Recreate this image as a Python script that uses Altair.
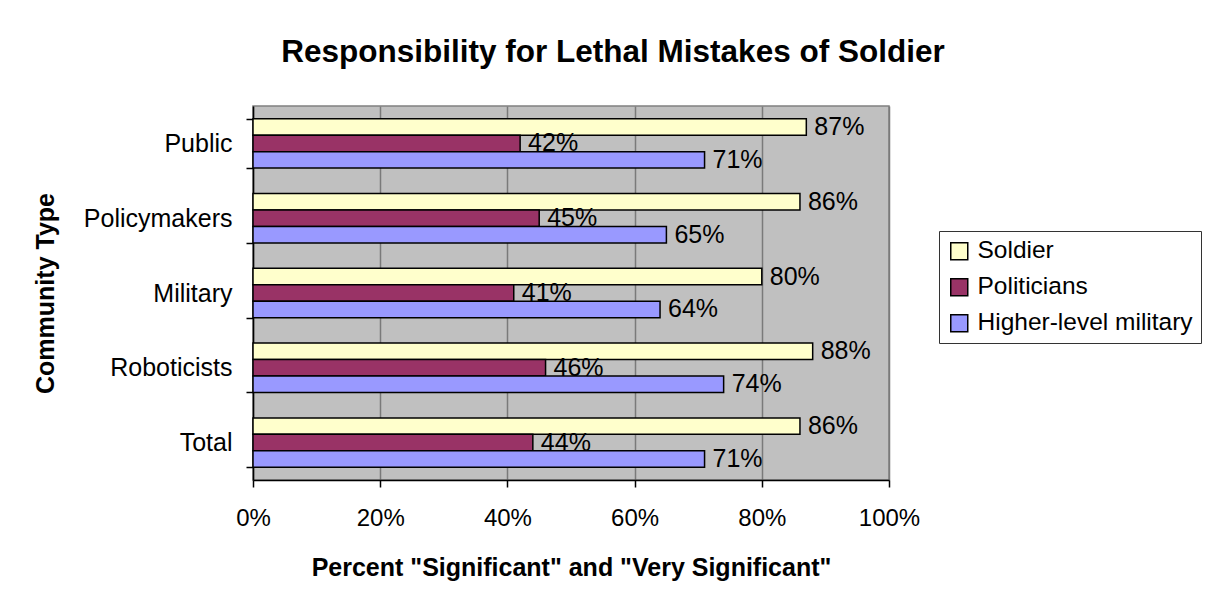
import altair as alt
import pandas as pd

categories = ["Public", "Policymakers", "Military", "Roboticists", "Total"]
series = ["Soldier", "Politicians", "Higher-level military"]
soldier = [87, 86, 80, 88, 86]
politicians = [42, 45, 41, 46, 44]
higher_military = [71, 65, 64, 74, 71]
colors = ["#FFFFCC", "#993366", "#9999FF"]
x_ticks = [0, 0.2, 0.4, 0.6, 0.8, 1.0]

rows = []
for i, c in enumerate(categories):
    for s, vals in zip(series, [soldier, politicians, higher_military]):
        rows.append({"category": c, "series": s, "value": vals[i] / 100.0,
                     "label": f"{vals[i]}%"})
df = pd.DataFrame(rows)

FONT = "Liberation Sans"

y = alt.Y(
    "category:N", sort=categories,
    scale=alt.Scale(paddingInner=0.34, paddingOuter=0.17),
    axis=alt.Axis(
        title="Community Type", titleFontSize=25, titleFontWeight="bold",
        titleColor="black", titleX=-208, titleY=187, titleAngle=270,
        titleAlign="center", titleBaseline="middle",
        labelFontSize=25, labelColor="black", labelPadding=14,
        tickBand="extent", tickSize=7, tickColor="black", tickWidth=1.5,
        domainColor="black", domainWidth=1.5, grid=False,
    ),
)

x = alt.X(
    "value:Q",
    scale=alt.Scale(domain=[0, 1], nice=False),
    axis=alt.Axis(
        format=".0%", values=x_ticks, labelFlush=False,
        title='Percent "Significant" and "Very Significant"',
        titleFontSize=25, titleFontWeight="bold", titleColor="black",
        titleY=87, titleBaseline="middle",
        labelFontSize=24, labelColor="black", labelPadding=19,
        tickSize=7, tickColor="black", tickWidth=1.5,
        domainColor="black", domainWidth=1.5,
        grid=True, gridColor="#7a7a7a", gridWidth=1.5,
    ),
)

yoff = alt.YOffset("series:N", sort=series,
                   scale=alt.Scale(paddingInner=0, paddingOuter=0))

color = alt.Color(
    "series:N", sort=series,
    scale=alt.Scale(domain=series, range=colors),
    legend=alt.Legend(
        title=None, orient="none", legendX=686, legendY=125,
        labelFontSize=24.5, labelColor="black", labelLimit=400, labelOffset=6,
        symbolType="square", symbolSize=289, symbolStrokeColor="black",
        symbolStrokeWidth=1.5, fillColor="white", strokeColor="#333333",
        padding=8, rowPadding=11,
    ),
)

base = alt.Chart(df)

bars = base.mark_bar(stroke="black", strokeWidth=1.5).encode(
    x=x, y=y, yOffset=yoff, color=color
)

texts = base.mark_text(
    align="left", baseline="middle", dx=8, fontSize=25, color="black", font=FONT
).encode(
    x="value:Q", y=alt.Y("category:N", sort=categories), yOffset=yoff, text="label:N"
)

chart = alt.layer(bars, texts).properties(
    width=636, height=374,
    autosize=alt.AutoSizeParams(type="none"),
    padding={"left": 245, "top": 98, "right": 318, "bottom": 115},
    title=alt.TitleParams(
        "Responsibility for Lethal Mistakes of Soldier",
        fontSize=31.5, fontWeight="bold", color="black", font=FONT,
        anchor="middle", dx=42, offset=1, baseline="alphabetic",
    ),
).configure(
    font=FONT, background="white"
).configure_view(
    fill="#C0C0C0", stroke="#808080", strokeWidth=1.5
)

chart.save("out.html", embed_options={"renderer": "svg", "actions": False})
